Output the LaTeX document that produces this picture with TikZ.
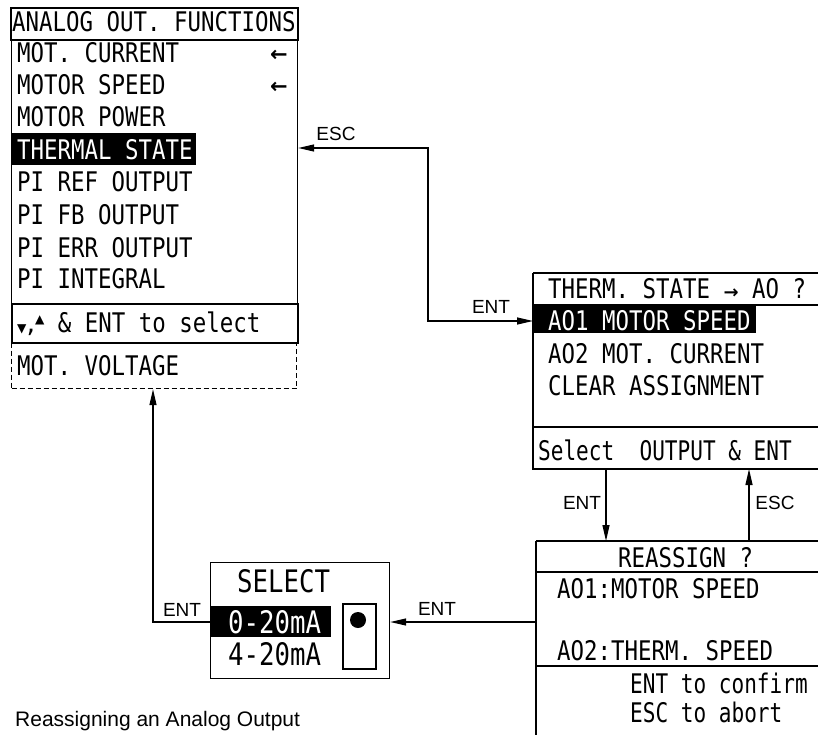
\documentclass[tikz,border=0pt]{standalone}
\usepackage{fontspec}
\setmainfont{Liberation Sans}
\newfontfamily\lcd[FakeStretch=0.83]{DejaVu Sans Mono}
\newfontfamily\lcdn[FakeStretch=0.78]{DejaVu Sans Mono}
\newfontfamily\symf{DejaVu Sans}
\usetikzlibrary{arrows.meta}
\begin{document}
\begin{tikzpicture}[x=1pt,y=-1pt,
  lcdtext/.style={font=\lcd\fontsize{27}{27}\selectfont, inner sep=0pt, anchor=base west},
  lcdnarrow/.style={font=\lcdn\fontsize{27}{27}\selectfont, inner sep=0pt, anchor=base west},
  lcdbig/.style={font=\lcd\fontsize{31}{31}\selectfont, inner sep=0pt, anchor=base west},
  lbl/.style={font=\fontsize{19}{19}\selectfont, inner sep=0pt},
  frame/.style={line width=1.2pt},
  thickb/.style={line width=2.4pt},
  boxn/.style={inner sep=0pt, anchor=north west},
  arr/.style={line width=1.2pt, -{Triangle[length=16pt,width=7pt]}},
  ]
\useasboundingbox (0,0) rectangle (818,735);

% ---------------- left panel ----------------
\node[boxn, frame, draw, minimum width=286pt, minimum height=264pt] (lmain) at (11,39) {};
\node[boxn, thickb, draw, minimum width=287pt, minimum height=32pt] (ltitle) at (10,7) {};
\node[boxn, thickb, draw, minimum width=286pt, minimum height=39pt] (lsel) at (11,303) {};
\node[boxn, frame, draw, dashed, dash pattern=on 5pt off 3pt, minimum width=285pt, minimum height=46pt] (lvolt) at (11,342) {};
\fill (12,133) rectangle (196,165);

\node[lcdtext] (t0) at (12,32) {ANALOG OUT. FUNCTIONS};
\node[lcdtext] (t1) at (17,63) {MOT. CURRENT};
\node[lcdtext] (t2) at (17,95) {MOTOR SPEED};
\node[lcdtext] (t3) at (17,127) {MOTOR POWER};
\node[lcdtext, text=white] (t4) at (17,160) {THERMAL STATE};
\node[lcdtext] (t5) at (17,192) {PI REF OUTPUT};
\node[lcdtext] (t6) at (17,225) {PI FB OUTPUT};
\node[lcdtext] (t7) at (17,257) {PI ERR OUTPUT};
\node[lcdtext] (t8) at (17,288) {PI INTEGRAL};
\node[lcdtext] (t9) at (17,332) {\symf\scalebox{0.45}{▼},\raisebox{9pt}{\scalebox{0.45}{▲}}\lcd{} \& ENT to select};
\node[lcdtext] (t10) at (17,375) {MOT. VOLTAGE};
\node[lcdtext, font=\symf\bfseries\fontsize{21}{21}\selectfont] (ar1) at (270,62) {←};
\node[lcdtext, font=\symf\bfseries\fontsize{21}{21}\selectfont] (ar2) at (270,94) {←};

% ---------------- assignment panel ----------------
\coordinate (ap) at (533,273);
\draw[thickb] (818,273) -- (533,273);
\draw[frame] (533,273) -- (533,469) -- (818,469);
\draw[frame] (533,305) -- (818,305);
\draw[thickb] (533,427) -- (818,427);
\fill (533,305) rectangle (756,333);
\node[lcdtext] (a0) at (548,298) {THERM. STATE {\symf\bfseries\fontsize{18}{18}\selectfont→} AO ?};
\node[lcdtext, text=white] (a1) at (548,330) {AO1 MOTOR SPEED};
\node[lcdtext] (a2) at (548,363) {AO2 MOT. CURRENT};
\node[lcdtext] (a3) at (548,395) {CLEAR ASSIGNMENT};
\node[lcdnarrow] (a4) at (538,460) {Select~~OUTPUT \& ENT};

% ---------------- reassign panel ----------------
\draw[thickb] (818,541) -- (536,541);
\draw[frame] (536,541) -- (536,735);
\draw[thickb] (536,572) -- (818,572);
\draw[thickb] (536,666) -- (818,666);
\node[lcdtext] (r0) at (618,567) {REASSIGN ?};
\node[lcdtext] (r1) at (557,598) {AO1:MOTOR SPEED};
\node[lcdtext] (r2) at (557,660) {AO2:THERM. SPEED};
\node[lcdnarrow] (r3) at (630,693) {ENT to confirm};
\node[lcdnarrow] (r4) at (630,722) {ESC to abort};

% ---------------- select box ----------------
\node[boxn, frame, draw, minimum width=179pt, minimum height=116pt] (sbox) at (210,562) {};
\fill (210,606) rectangle (331,637);
\node[boxn, thickb, draw, minimum width=33pt, minimum height=65pt] (jump) at (342,603) {};
\fill (358,620) circle (8);
\node[lcdbig] (s0) at (237,592) {SELECT};
\node[lcdbig, text=white] (s1) at (228,633) {0-20mA};
\node[lcdbig] (s2) at (228,665) {4-20mA};

% ---------------- connectors ----------------
\coordinate (b1) at (428,148);
\coordinate (b2) at (428,321);
\draw[frame, {Triangle[length=16pt,width=7pt]}-{Triangle[length=16pt,width=7pt]}]
  (lmain.east |- b1) -- (b1) -- (b2) -- (b2 -| ap);
\node[lbl] (escl1) at (336,134) {ESC};
\node[lbl] (entl1) at (491,307) {ENT};

\coordinate (d1) at (606,469);
\coordinate (u1) at (749,469);
\draw[arr] (d1) -- (d1 |- 0,541);
\draw[arr] (u1 |- 0,541) -- (u1);
\node[lbl] (entl2) at (582,503) {ENT};
\node[lbl] (escl2) at (775,503) {ESC};

\coordinate (h1) at (536,622);
\draw[arr] (h1) -- (h1 -| sbox.east);
\node[lbl] (entl3) at (437,609) {ENT};

\coordinate (c1) at (153,622);
\draw[arr] (c1 -| sbox.west) -- (c1) -- (c1 |- lvolt.south);
\node[lbl] (entl4) at (182,610) {ENT};

\node[font=\fontsize{21}{21}\selectfont, inner sep=0pt, anchor=base west] (cap) at (15,726) {Reassigning an Analog Output};
\end{tikzpicture}
\end{document}
